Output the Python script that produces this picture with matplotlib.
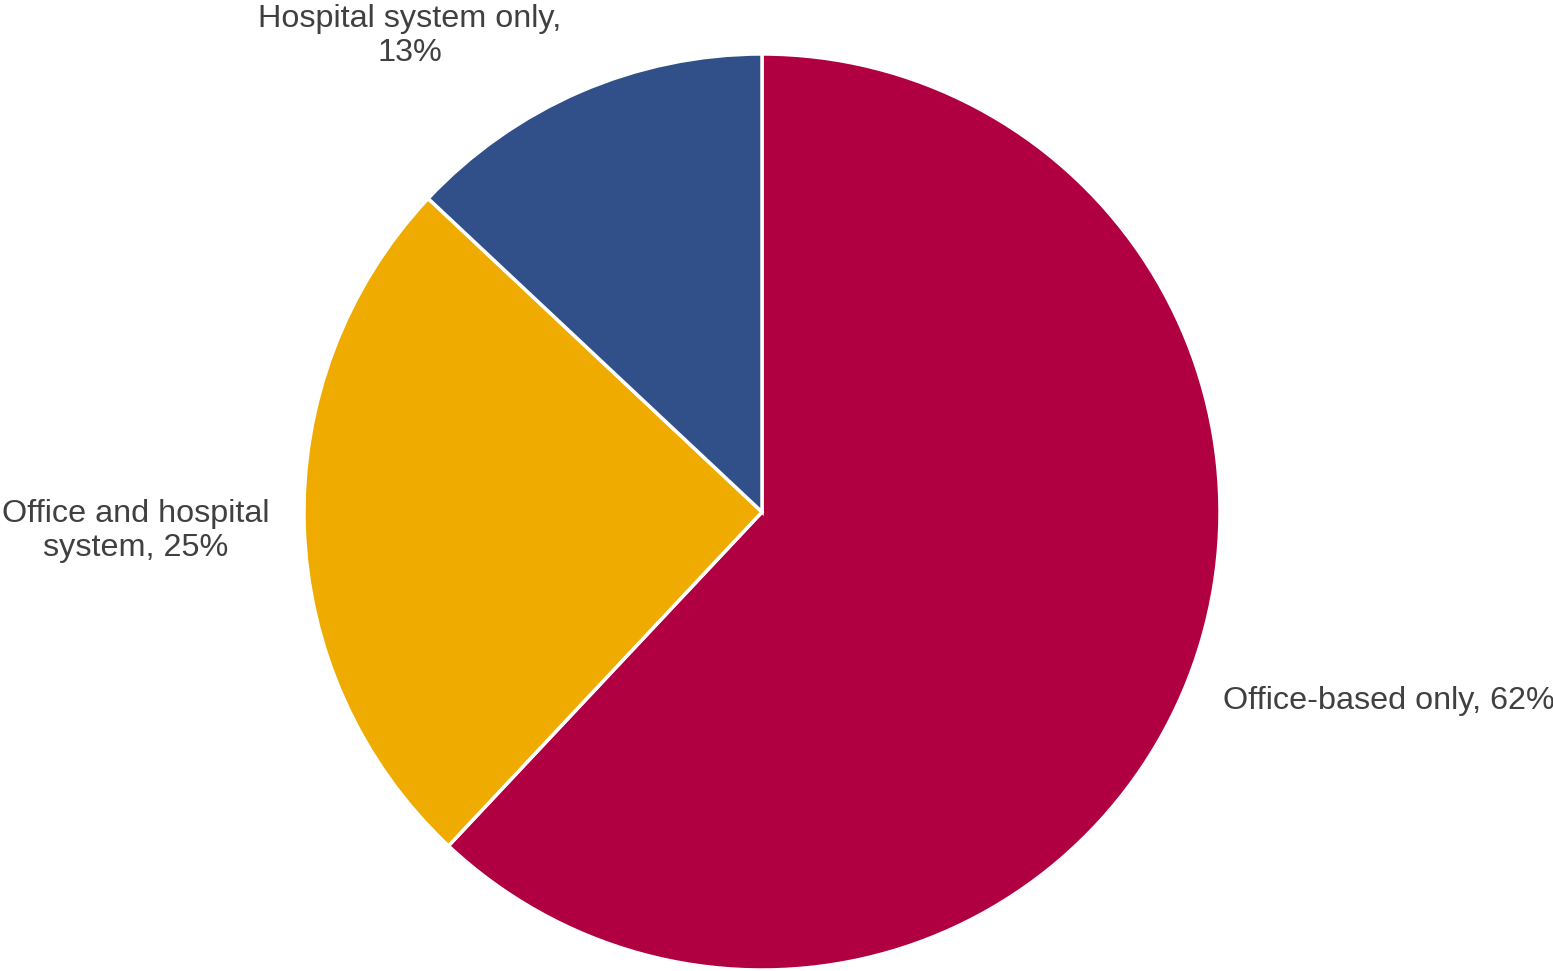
import matplotlib
matplotlib.use("Agg")
import matplotlib.pyplot as plt

# Share of practices by setting
categories = ["Office-based only", "Office and hospital\nsystem", "Hospital system only"]
shares = [62, 25, 13]
separators = [", ", ", ", ",\n"]
colors = ["#B00042", "#F0AB00", "#314F88"]

W, H = 1553, 971
fig = plt.figure(figsize=(W / 100, H / 100), dpi=100)
fig.patch.set_facecolor("white")

# Pie centre (762, 512) px, radius 458 px
cx, cy, r = 762, 512, 458
ax = fig.add_axes([(cx - r) / W, (H - cy - r) / H, 2 * r / W, 2 * r / H])
ax.pie(shares, colors=colors, startangle=90, counterclock=False,
       wedgeprops=dict(edgecolor="white", linewidth=2.5))
ax.set_xlim(-1, 1)
ax.set_ylim(-1, 1)
ax.set_aspect("equal")
ax.axis("off")

font = dict(family=["Liberation Sans", "DejaVu Sans"], size=23.3, color="#404040")

label_pos = [
    (1223, 701, "left"),
    (136, 531, "center"),
    (410, 36, "center"),
]
for cat, val, sep, (px, py, ha) in zip(categories, shares, separators, label_pos):
    fig.text(px / W, 1 - py / H, f"{cat}{sep}{val}%", ha=ha, va="center",
             multialignment="center", linespacing=1.18, **font)

fig.savefig("out.png", dpi=100)
